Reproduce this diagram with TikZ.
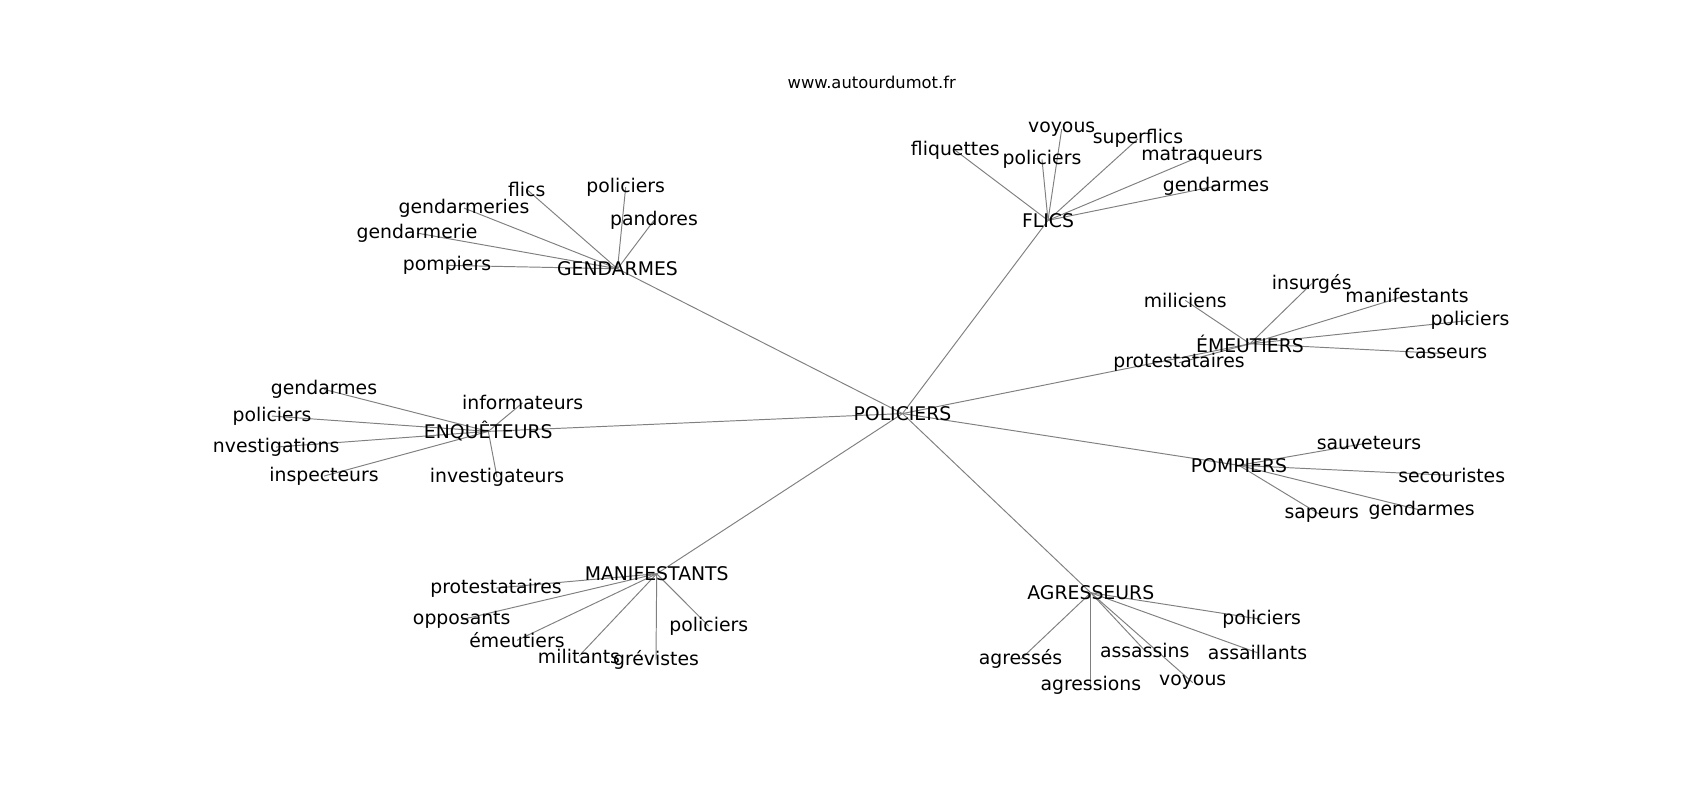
\documentclass[tikz,border=0pt]{standalone}
\usepackage{fontspec}
\setmainfont{DejaVu Sans}
\usetikzlibrary{backgrounds}

\begin{document}
\begin{tikzpicture}[x=0.01in,y=-0.01in,
  word/.style={inner sep=0pt,yshift=-1.5pt,font=\fontsize{13.6}{16}\selectfont},
  link/.style={draw=gray,line width=0.7pt}]
\useasboundingbox (0,0) rectangle (1700,800);
\node [inner sep=0pt,font=\fontsize{11.8}{14}\selectfont] (site) at (871.7,82) {www.autourdumot.fr};

% centre and hubs
\node [word] (pol) at (902.5,411.5) {POLICIERS};
\node [word] (gend) at (617.5,266.7) {GENDARMES};
\node [word] (flics) at (1048,218.3) {FLICS};
\node [word] (emeu) at (1250,341.7) {ÉMEUTIERS};
\node [word] (enq) at (488.3,429.3) {ENQUÊTEURS};
\node [word] (pomp) at (1239,463.3) {POMPIERS};
\node [word] (manif) at (656.7,571.7) {MANIFESTANTS};
\node [word] (agr) at (1090.8,590.7) {AGRESSEURS};

% gendarmes
\node [word] (gend-1) at (526.7,187.3) {flics};
\node [word] (gend-2) at (625.7,185) {policiers};
\node [word] (gend-3) at (654,218.3) {pandores};
\node [word] (gend-4) at (464,206) {gendarmeries};
\node [word] (gend-5) at (417,231) {gendarmerie};
\node [word] (gend-6) at (447,263.3) {pompiers};

% flics
\node [word] (flics-1) at (1061.7,127) {voyous};
\node [word] (flics-2) at (1138,136.7) {superflics};
\node [word] (flics-3) at (955.3,148.3) {fliquettes};
\node [word] (flics-4) at (1042,157.3) {policiers};
\node [word] (flics-5) at (1202,153.5) {matraqueurs};
\node [word] (flics-6) at (1216,184) {gendarmes};

% enqueteurs
\node [word] (enq-1) at (324,387.3) {gendarmes};
\node [word] (enq-2) at (522.7,400.7) {informateurs};
\node [word] (enq-3) at (272,414) {policiers};
\node [word,anchor=west] (enq-4) at (212.7,445) {nvestigations};
\node [word] (enq-5) at (324,474) {inspecteurs};
\node [word] (enq-6) at (497,475) {investigateurs};

% emeutiers
\node [word] (emeu-1) at (1311.7,281.5) {insurgés};
\node [word] (emeu-2) at (1185.3,298.3) {miliciens};
\node [word] (emeu-3) at (1407,293.3) {manifestants};
\node [word] (emeu-4) at (1470,318.3) {policiers};
\node [word] (emeu-5) at (1179,360.7) {protestataires};
\node [word] (emeu-6) at (1446,351.5) {casseurs};

% pompiers
\node [word] (pomp-1) at (1369,440.7) {sauveteurs};
\node [word] (pomp-2) at (1451.7,473.3) {secouristes};
\node [word] (pomp-3) at (1321.7,513.5) {sapeurs};
\node [word] (pomp-4) at (1421.7,508.3) {gendarmes};

% manifestants
\node [word] (manif-1) at (496,586) {protestataires};
\node [word] (manif-2) at (461.7,617.5) {opposants};
\node [word] (manif-3) at (517,638.3) {émeutiers};
\node [word] (manif-4) at (579,654) {militants};
\node [word] (manif-5) at (656,657.5) {grévistes};
\node [word] (manif-6) at (708.8,624) {policiers};

% agresseurs
\node [word] (agr-1) at (1261.7,617.3) {policiers};
\node [word] (agr-2) at (1020.5,657.3) {agressés};
\node [word] (agr-3) at (1144.7,648.3) {assassins};
\node [word] (agr-4) at (1257.5,650.7) {assaillants};
\node [word] (agr-5) at (1090.8,683.3) {agressions};
\node [word] (agr-6) at (1192.7,680.5) {voyous};

\begin{scope}[on background layer]
\foreach \h in {gend,flics,emeu,enq,pomp,manif,agr}
  \draw [link] (pol.center) -- (\h.center);
\foreach \h in {gend,flics,enq,emeu,manif,agr}
  \foreach \i in {1,...,6}
    \draw [link] (\h.center) -- (\h-\i.center);
\foreach \i in {1,...,4}
  \draw [link] (pomp.center) -- (pomp-\i.center);
\end{scope}

\end{tikzpicture}
\end{document}
